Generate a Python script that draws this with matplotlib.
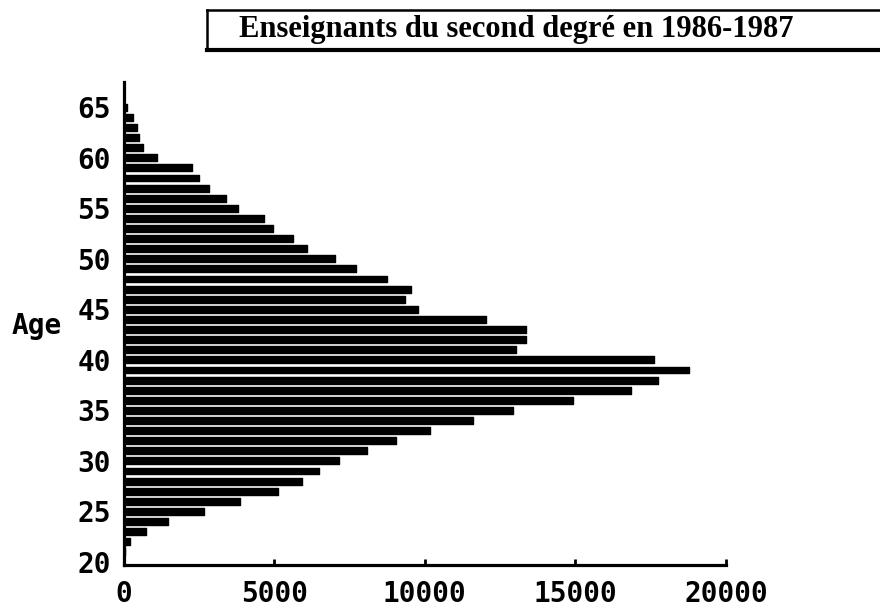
import matplotlib
matplotlib.use("Agg")
import matplotlib.pyplot as plt
from matplotlib.lines import Line2D

title = "Enseignants du second degré en 1986-1987"
y_name = "Age"

ages = list(range(20, 66))
# nombre d'enseignants par âge
teachers = [0, 60, 220, 750, 1490, 2680, 3870, 5140, 5920, 6500,
            7140, 8080, 9050, 10180, 11600, 12920, 14910, 16830, 17730, 18760,
            17600, 13030, 13360, 13360, 12040, 9790, 9350, 9550, 8740, 7710,
            7030, 6100, 5640, 4960, 4680, 3810, 3400, 2840, 2490, 2290,
            1100, 640, 515, 440, 306, 100]
x_ticks = [0, 5000, 10000, 15000, 20000]
y_ticks = [20, 25, 30, 35, 40, 45, 50, 55, 60, 65]

W, H = 880, 614
fig = plt.figure(figsize=(8.8, 6.14), dpi=100)
ax = fig.add_axes([123.5 / W, 1 - 565 / H, (726 - 123.5) / W, (565 - 82) / H])

ax.barh(ages, teachers, height=0.68, color='black', edgecolor='black',
        linewidth=1, joinstyle='round')

ax.set_xlim(0, 20000)
ax.set_ylim(19.7, 67.5)
ax.set_xticks(x_ticks)
ax.set_xticklabels([str(t) for t in x_ticks])
ax.set_yticks(y_ticks)
ax.set_yticklabels([str(t) for t in y_ticks])

lab_font = dict(family='DejaVu Sans Mono', weight='bold', size=20)
for lab in ax.get_xticklabels() + ax.get_yticklabels():
    lab.set_fontfamily(lab_font['family'])
    lab.set_fontweight(lab_font['weight'])
    lab.set_fontsize(lab_font['size'])

ax.tick_params(axis='x', direction='in', length=4, width=2, pad=11)
ax.tick_params(axis='y', length=0, pad=9)

for s in ['top', 'right']:
    ax.spines[s].set_visible(False)
for s in ['left', 'bottom']:
    ax.spines[s].set_linewidth(2.3)

fig.text(37 / W, 1 - 326 / H, y_name, ha='center', va='center', **lab_font)

# titre encadré
fig.text(516 / W, 1 - 30 / H, title, ha='center', va='center',
         family='Liberation Serif', weight='bold', size=22)
fig.add_artist(Line2D([207 / W, 1.0], [1 - 10 / H, 1 - 10 / H], color='black', lw=1.8))
fig.add_artist(Line2D([207 / W, 1.0], [1 - 50 / H, 1 - 50 / H], color='black', lw=3))
fig.add_artist(Line2D([207 / W, 207 / W], [1 - 10 / H, 1 - 50 / H], color='black', lw=1.8))

fig.savefig("out.png", dpi=100)
